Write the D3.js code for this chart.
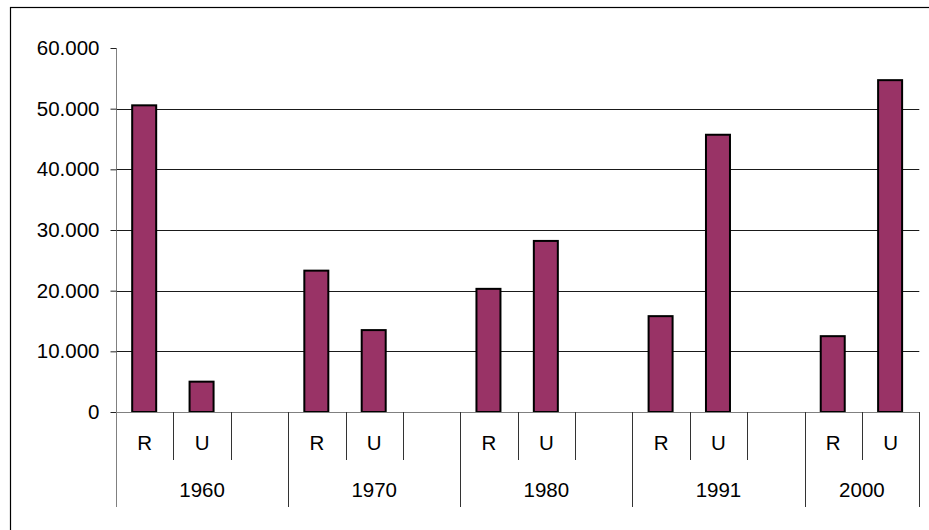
<!DOCTYPE html>
<html>
<head>
<meta charset="utf-8">
<script src="https://cdn.jsdelivr.net/npm/d3@7"></script>
<style>
html,body{margin:0;padding:0;background:#fff;}
svg{display:block;font-family:Arial,"Liberation Sans",sans-serif;}
</style>
</head>
<body>
<svg id="chart" width="929" height="530"></svg>
<script>
const years = ["1960", "1970", "1980", "1991", "2000"];
const subLabels = ["R", "U"];
const valuesR = [50550, 23300, 20300, 15800, 12500];
const valuesU = [5000, 13500, 28200, 45700, 54700];
const yTicks = [0, 10000, 20000, 30000, 40000, 50000, 60000];

(function () {
const svg = d3.select("#chart");
const W = 929, H = 530;
const plotL = 116, plotR = 919.3, plotT = 48, plotB = 412;
const FS = 20.5;

// border
svg.append("rect").attr("x", 10.5).attr("y", 7.5).attr("width", W + 10).attr("height", H + 10)
  .attr("fill", "none").attr("stroke", "#000").attr("stroke-width", 1.2);

// slots: R, U, blank per group (last group has no blank)
const slots = [];
years.forEach((yr, gi) => {
  subLabels.forEach((s) => slots.push({id: yr + "-" + s, year: yr, sub: s, gi: gi,
    value: s === "R" ? valuesR[gi] : valuesU[gi]}));
  if (gi < years.length - 1) slots.push({id: yr + "-blank", year: yr, sub: "", gi: gi, value: null});
});

const x = d3.scaleBand().domain(slots.map(d => d.id)).range([plotL, plotR]).padding(0);
const y = d3.scaleLinear().domain([0, 60000]).range([plotB, plotT]);
const fmt = v => v === 0 ? "0" : d3.format(",")(v).replace(/,/g, ".");

// gridlines
svg.append("g").selectAll("line").data(yTicks.filter(v => v > 0 && v < 60000)).join("line")
  .attr("x1", plotL).attr("x2", plotR)
  .attr("y1", d => Math.round(y(d)) + 0.5).attr("y2", d => Math.round(y(d)) + 0.5)
  .attr("stroke", "#1a1a1a").attr("stroke-width", 1);

// bars
const bw = 24;
svg.append("g").selectAll("rect").data(slots.filter(d => d.value !== null)).join("rect")
  .attr("x", d => x(d.id) + x.bandwidth() / 2 - bw / 2 - 0.5)
  .attr("y", d => y(d.value))
  .attr("width", bw)
  .attr("height", d => y(0) - y(d.value))
  .attr("fill", "#993366").attr("stroke", "#000").attr("stroke-width", 2);

// y axis
const yAxis = d3.axisLeft(y).tickValues(yTicks).tickSize(6).tickPadding(11).tickFormat(fmt);
const gy = svg.append("g").attr("transform", `translate(${plotL + 0.5},0)`).call(yAxis);
gy.select(".domain").attr("stroke", "#808080").attr("d", `M0,${plotT + 0.5}V${plotB}`);
gy.selectAll(".tick line").attr("stroke", "#222");
gy.selectAll(".tick text").attr("font-size", FS).attr("fill", "#000")
  .attr("font-family", "Arial, 'Liberation Sans', sans-serif");

// category axis line
svg.append("line").attr("x1", plotL).attr("x2", plotR).attr("y1", plotB + 0.5).attr("y2", plotB + 0.5)
  .attr("stroke", "#808080").attr("stroke-width", 1);

// separators
const bounds = [];
slots.forEach((d, i) => {
  const isGroupStart = i === 0 || slots[i - 1].gi !== d.gi;
  bounds.push({x: x(d.id), long: isGroupStart});
});
bounds.push({x: plotR, long: true});
svg.append("g").selectAll("line").data(bounds).join("line")
  .attr("x1", d => Math.round(d.x) + 0.5).attr("x2", d => Math.round(d.x) + 0.5)
  .attr("y1", plotB).attr("y2", d => d.long ? 507 : 460)
  .attr("stroke", d => d.x === plotL ? "#808080" : "#333").attr("stroke-width", 1);

// sub labels
svg.append("g").selectAll("text").data(slots.filter(d => d.sub)).join("text")
  .attr("x", d => x(d.id) + x.bandwidth() / 2)
  .attr("y", 450).attr("text-anchor", "middle").attr("font-size", FS).attr("fill", "#000")
  .text(d => d.sub);

// year labels
const groupExtent = years.map((yr, gi) => {
  const s = slots.filter(d => d.gi === gi);
  const x0 = x(s[0].id), x1 = x(s[s.length - 1].id) + x.bandwidth();
  return {yr, cx: (x0 + x1) / 2};
});
svg.append("g").selectAll("text").data(groupExtent).join("text")
  .attr("x", d => d.cx).attr("y", 497).attr("text-anchor", "middle")
  .attr("font-size", FS).attr("fill", "#000").text(d => d.yr);
})();
</script>
</body>
</html>
